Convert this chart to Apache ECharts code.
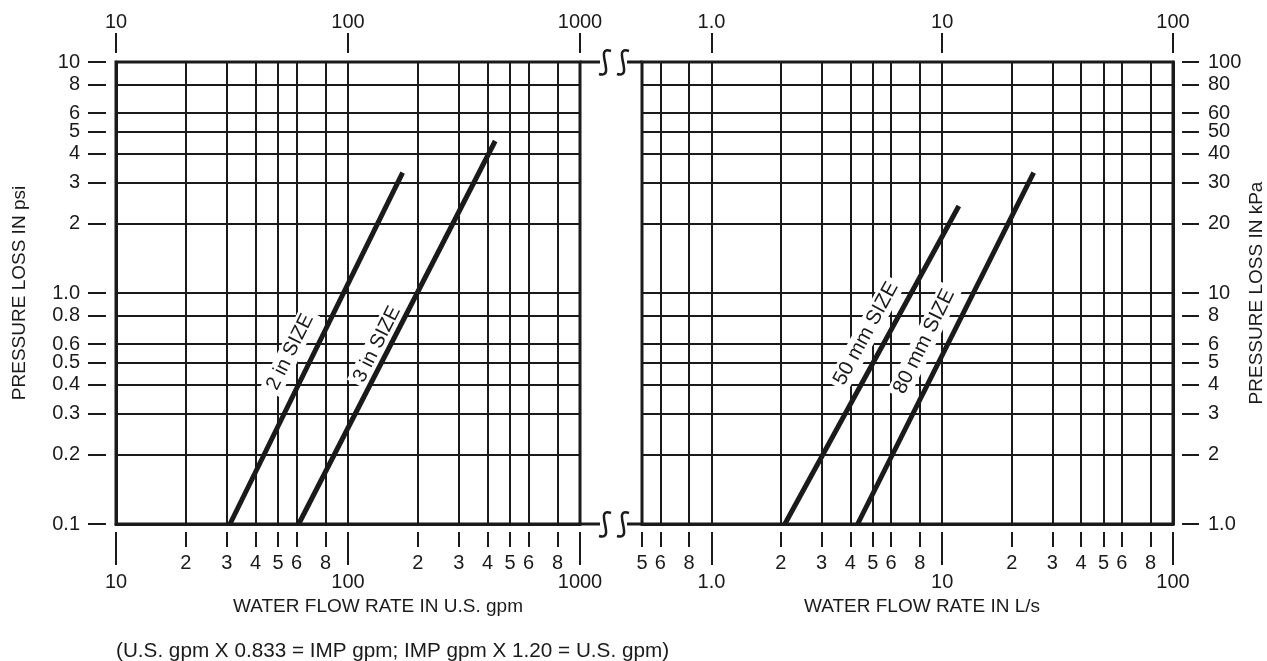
<!DOCTYPE html>
<html><head><meta charset="utf-8">
<script src="https://cdn.jsdelivr.net/npm/echarts@6/dist/echarts.min.js"></script>
<style>html,body{margin:0;padding:0;background:#fff}#c{width:1267px;height:661px}</style>
</head><body><div id="c"></div>
<script>
// ---- data ----
const gpmMajor = [10, 100, 1000];
const gpmMinor = [20, 30, 40, 50, 60, 80, 200, 300, 400, 500, 600, 800];
const lpsMajor = [1, 10, 100];
const lpsMinor = [0.5, 0.6, 0.8, 2, 3, 4, 5, 6, 8, 20, 30, 40, 50, 60, 80];
const psiTicks = [0.1, 0.2, 0.3, 0.4, 0.5, 0.6, 0.8, 1, 2, 3, 4, 5, 6, 8, 10];
const kpaTicks = [1, 2, 3, 4, 5, 6, 8, 10, 20, 30, 40, 50, 60, 80, 100];
const size2in = [[31, 0.1], [172, 3.32]];
const size3in = [[61.3, 0.1], [431, 4.55]];
const size50mm = [[2.08, 1.0], [11.8, 23.8]];
const size80mm = [[4.3, 1.0], [24.9, 33.2]];
const labelNames = ['2 in SIZE', '3 in SIZE', '50 mm SIZE', '80 mm SIZE'];
const labelAnchors = [[56.3, 0.555], [133.4, 0.6], [4.68, 6.68], [8.35, 6.17]];

// ---- style ----
const font = '"Liberation Sans", Arial, Helvetica, sans-serif';
const ink = '#1a1a1a';
const fsTick = 20;
const fsTitle = 19;

function lead(v) {
  const e = Math.floor(Math.log10(v) + 1e-9);
  return String(Math.round(v / Math.pow(10, e)));
}
function fmtNum(v) {
  if (Math.abs(v - 1) < 1e-9) return '1.0';
  return String(v);
}

function mainAxis(gi, min, max, pos, vals) {
  return {
    type: 'log', logBase: 10, gridIndex: gi, min: min, max: max, position: pos,
    axisLine: { show: true, lineStyle: { color: ink, width: 3 } },
    axisTick: { show: false, customValues: vals },
    axisLabel: { show: false },
    splitLine: { show: true, lineStyle: { color: ink, width: 2 } },
    minorTick: { show: false }, minorSplitLine: { show: false }
  };
}
function tickAxis(gi, min, max, pos, offset, vals, len, margin, fmt) {
  return {
    type: 'log', logBase: 10, gridIndex: gi, min: min, max: max, position: pos, offset: offset,
    axisLine: { show: false },
    axisTick: { show: true, customValues: vals, length: len, lineStyle: { color: ink, width: 2 } },
    axisLabel: { show: true, customValues: vals, margin: margin, formatter: fmt,
      color: ink, fontSize: fsTick, fontFamily: font, hideOverlap: false },
    splitLine: { show: false }
  };
}

const xAxis = [
  mainAxis(0, 10, 1000, 'bottom', gpmMajor.concat(gpmMinor)),
  tickAxis(0, 10, 1000, 'bottom', 8, gpmMinor, 15, 21, lead),
  tickAxis(0, 10, 1000, 'bottom', 8, gpmMajor, 33, 40, v => String(v)),
  tickAxis(0, 10, 1000, 'top', 9, gpmMajor, 20, 21, v => String(v)),
  mainAxis(1, 0.5, 100, 'bottom', lpsMajor.concat(lpsMinor)),
  tickAxis(1, 0.5, 100, 'bottom', 8, lpsMinor, 15, 21, lead),
  tickAxis(1, 0.5, 100, 'bottom', 8, lpsMajor, 33, 40, fmtNum),
  tickAxis(1, 0.5, 100, 'top', 9, lpsMajor, 20, 21, fmtNum)
];
const yAxis = [
  mainAxis(0, 0.1, 10, 'left', psiTicks),
  tickAxis(0, 0.1, 10, 'left', 10, psiTicks, 18, 26, fmtNum),
  mainAxis(1, 1, 100, 'right', kpaTicks),
  tickAxis(1, 1, 100, 'right', 9, kpaTicks, 17, 26, fmtNum)
];

function sizeLine(data, xi, yi) {
  return { type: 'line', xAxisIndex: xi, yAxisIndex: yi, data: data, symbol: 'none',
    lineStyle: { color: ink, width: 5 }, z: 6, silent: true, animation: false };
}
function sizeLabel(i, xi, yi, angle, size) {
  return { type: 'scatter', xAxisIndex: xi, yAxisIndex: yi, symbol: 'circle', symbolSize: 1,
    itemStyle: { color: '#ffffff', opacity: 1 }, z: 5, silent: true,
    emphasis: { disabled: true },
    data: [{ name: labelNames[i], value: labelAnchors[i] }],
    label: { show: true, position: 'inside', formatter: '{b}', rotate: angle,
      color: ink, opacity: 1, textBorderWidth: 0, fontSize: size, fontFamily: font,
      backgroundColor: '#ffffff', padding: [1, 4] } };
}

function breakMark(y) {
  const st = { stroke: ink, lineWidth: 2.5, fill: null };
  return [
    { type: 'line', shape: { x1: 580, y1: y, x2: 600, y2: y }, style: { stroke: ink, lineWidth: 3 } },
    { type: 'line', shape: { x1: 627, y1: y, x2: 642, y2: y }, style: { stroke: ink, lineWidth: 3 } },
    { type: 'bezierCurve', shape: { x1: 611, y1: y - 11, cpx1: 593, cpy1: y - 17, cpx2: 617, cpy2: y + 17, x2: 599, y2: y + 12 }, style: st },
    { type: 'bezierCurve', shape: { x1: 629, y1: y - 11, cpx1: 611, cpy1: y - 17, cpx2: 635, cpy2: y + 17, x2: 617, y2: y + 12 }, style: st }
  ];
}
function txt(text, x, y, rot, align, size) {
  return { type: 'text', x: x, y: y, rotation: rot || 0,
    style: { text: text, fill: ink, font: (size || fsTitle) + 'px ' + font, align: align || 'center', verticalAlign: 'middle' } };
}

const chart = echarts.init(document.getElementById('c'), null, { renderer: 'canvas' });
chart.setOption({
  backgroundColor: '#fff',
  animation: false,
  grid: [
    { left: 116, top: 62, width: 464, height: 462, show: true, borderColor: ink, borderWidth: 3, backgroundColor: 'transparent' },
    { left: 642, top: 62, width: 531, height: 462, show: true, borderColor: ink, borderWidth: 3, backgroundColor: 'transparent' }
  ],
  xAxis: xAxis,
  yAxis: yAxis,
  series: [
    sizeLine(size2in, 0, 0), sizeLine(size3in, 0, 0),
    sizeLine(size50mm, 4, 2), sizeLine(size80mm, 4, 2),
    sizeLabel(0, 0, 0, 63.5, 20), sizeLabel(1, 0, 0, 63.3, 20),
    sizeLabel(2, 4, 2, 61.4, 20.5), sizeLabel(3, 4, 2, 63.6, 20.5)
  ],
  graphic: [].concat(
    breakMark(62), breakMark(524),
    [
      txt('WATER FLOW RATE IN U.S. gpm', 378, 607),
      txt('WATER FLOW RATE IN L/s', 922, 607),
      txt('PRESSURE LOSS IN psi', 20, 293, Math.PI / 2),
      txt('PRESSURE LOSS IN kPa', 1257, 293, Math.PI / 2),
      txt('(U.S. gpm X 0.833 = IMP gpm; IMP gpm X 1.20 = U.S. gpm)', 116, 651, 0, 'left', 20.7)
    ]
  )
});
</script></body></html>
